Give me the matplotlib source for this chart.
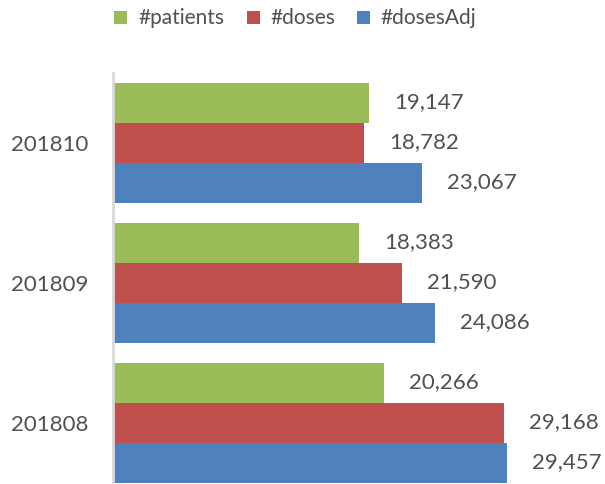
import matplotlib
matplotlib.use("Agg")
import matplotlib.pyplot as plt
import numpy as np
from matplotlib.patches import Rectangle

categories = ["201808", "201809", "201810"]
series_names = ["#patients", "#doses", "#dosesAdj"]
patients = [20266, 18383, 19147]
doses = [29168, 21590, 18782]
doses_adj = [29457, 24086, 23067]
colors = ["#9BBB59", "#C0504D", "#4F81BD"]

plt.rcParams['font.family'] = ['Lato', 'DejaVu Sans']
text_color = "#505050"

W, H = 605, 484
fig = plt.figure(figsize=(W / 100, H / 100), dpi=100)
ax = fig.add_axes([113 / W, (H - 493) / H, 482 / W, 420 / H])

y = np.arange(len(categories))
bh = 40 / 140
offsets = [bh, 0, -bh]
data = [patients, doses, doses_adj]
for vals, off, c, name in zip(data, offsets, colors, series_names):
    ax.barh(y + off, vals, height=bh, color=c, label=name)
    for yy, v in zip(y + off, vals):
        ax.annotate(f"{v:,}", xy=(v, yy), xytext=(25, 1), textcoords="offset pixels",
                    va="center", ha="left", fontsize=16, color=text_color)

ax.set_xlim(0, 36000)
ax.set_ylim(-0.5, 2.5)
ax.set_yticks(y)
ax.set_yticklabels(categories, fontsize=16, color=text_color)
ax.tick_params(axis="y", length=0, pad=18)
ax.set_xticks([])
for s in ["top", "right", "bottom"]:
    ax.spines[s].set_visible(False)
ax.spines["left"].set_color("#D9D9D9")
ax.spines["left"].set_linewidth(2)

# legend, placed by hand at top
patch_x = [114, 247, 357]
text_x = [138, 270, 380]
for px, tx, c, name in zip(patch_x, text_x, colors, series_names):
    fig.patches.append(Rectangle((px / W, 1 - 24 / H), 13 / W, 13 / H,
                                 transform=fig.transFigure, facecolor=c, edgecolor="none"))
    fig.text(tx / W, 1 - 18 / H, name, fontsize=15, color=text_color,
             ha="left", va="center")

fig.savefig("out.png", dpi=100)
